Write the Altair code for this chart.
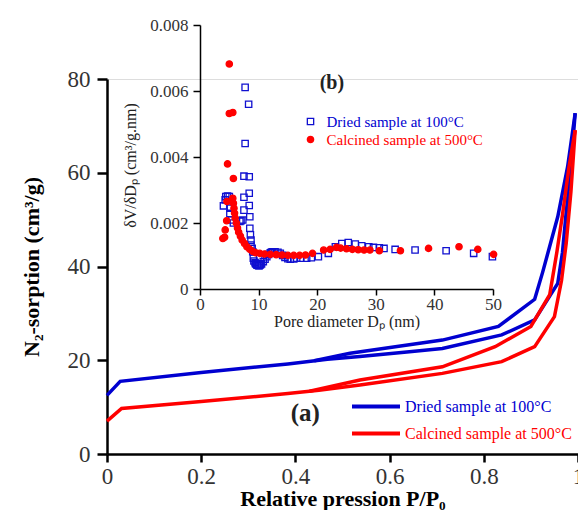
import altair as alt
import pandas as pd

DRIED = "Dried sample at 100°C"
CALC = "Calcined sample at 500°C"
BLUE = "#0000d0"
RED = "#ff0000"

# ---- (a) N2 sorption isotherms: relative pressure P/P0 vs adsorbed volume (cm3/g)
dried_ads_x = [0.0, 0.028, 0.2, 0.384, 0.468, 0.537, 0.642, 0.712, 0.838, 0.908, 0.957, 0.967, 0.974, 0.985, 0.994]
dried_ads_y = [12.5, 15.5, 17.4, 19.2, 20.2, 20.8, 21.8, 22.5, 25.4, 28.6, 36.4, 43.0, 50.6, 61.3, 72.7]
dried_des_x = [0.44, 0.516, 0.712, 0.831, 0.908, 0.925, 0.957, 0.978, 0.994]
dried_des_y = [19.9, 21.5, 24.3, 27.2, 33.0, 38.8, 50.6, 61.3, 72.7]
calc_ads_x = [0.0, 0.031, 0.2, 0.384, 0.45, 0.537, 0.712, 0.838, 0.908, 0.95, 0.965, 0.975, 0.985, 0.994]
calc_ads_y = [7.0, 9.7, 11.2, 12.9, 13.6, 14.7, 17.2, 19.7, 22.9, 29.3, 37.0, 45.0, 56.0, 69.1]
calc_des_x = [0.43, 0.537, 0.712, 0.824, 0.90, 0.94, 0.955, 0.967, 0.981, 0.994]
calc_des_y = [13.4, 15.8, 18.6, 22.9, 27.2, 34.0, 43.0, 51.0, 61.3, 69.1]

# ---- (b) pore size distribution: pore diameter (nm) vs dV/dDp (x 0.001 cm3/g.nm)
psd_dried_d = [4.0, 4.3, 4.4, 4.7, 5.0, 5.1, 5.2, 5.4, 5.7, 6.8, 7.0, 7.3, 7.5, 7.5, 7.5, 7.7, 7.7, 8.3,
               8.4, 8.4, 8.4, 8.5, 8.5, 8.6, 8.7, 8.7, 8.9, 9.0, 9.1, 9.2, 9.4, 9.5, 9.7, 9.8, 10.0, 10.1,
               10.3, 10.5, 10.8, 11.1, 11.4, 11.7, 12.0, 12.2, 12.4, 12.8, 13.3, 13.7, 14.1, 14.5, 15.0,
               15.4, 16.0, 16.5, 17.2, 18.2, 19.0, 20.2, 21.9, 23.1, 24.2, 25.3, 26.5, 27.6, 28.8, 29.6,
               30.6, 31.4, 33.3, 36.7, 42.0, 46.7, 49.9]
psd_dried_v = [2.52, 2.70, 2.80, 2.82, 2.80, 2.29, 2.45, 2.09, 2.00, 2.05, 2.07, 2.09, 2.78, 2.39, 3.42, 4.41,
               6.11, 5.60, 3.40, 2.90, 2.53, 2.19, 1.84, 1.64, 1.48, 1.33, 1.23, 1.13, 0.93, 0.85, 0.80, 0.76,
               0.73, 0.72, 0.71, 0.71, 0.73, 0.76, 0.83, 0.90, 0.98, 1.05, 1.10, 1.12, 1.13, 1.13, 1.11,
               1.08, 1.02, 0.96, 0.92, 0.90, 0.91, 0.93, 0.93, 0.93, 0.95, 0.98, 1.08, 1.28, 1.38, 1.41,
               1.36, 1.31, 1.28, 1.26, 1.25, 1.23, 1.20, 1.18, 1.16, 1.08, 0.98]
psd_calc_d = [3.9, 4.2, 4.3, 4.55, 4.6, 4.7, 5.0, 5.0, 5.6, 5.7, 5.6, 5.7, 5.8, 5.9, 6.0, 6.2, 6.4, 6.6,
              6.9, 7.2, 7.6, 8.0, 8.5, 9.0, 9.5, 10.2, 11.0, 12.0, 13.0, 14.0, 15.0, 16.0, 17.0, 18.0,
              19.2, 21.1, 22.2, 23.3, 24.0, 25.0, 26.0, 27.0, 28.0, 29.0, 30.6, 34.2, 39.0, 44.2, 47.4, 50.1]
psd_calc_v = [1.53, 1.57, 1.79, 2.07, 2.65, 3.79, 6.82, 5.32, 5.35, 3.35, 2.75, 2.60, 2.45, 2.30, 2.15,
              2.00, 1.85, 1.72, 1.60, 1.48, 1.38, 1.28, 1.20, 1.14, 1.10, 1.08, 1.06, 1.05, 1.04, 1.03,
              1.02, 1.02, 1.02, 1.03, 1.08, 1.18, 1.20, 1.26, 1.24, 1.22, 1.20, 1.19, 1.18, 1.18, 1.16,
              1.16, 1.23, 1.28, 1.20, 1.05]

# panel labels
label_a_text, label_a_x, label_a_y = ["(a)"], [0.421], [7.0]
label_b_text, label_b_x, label_b_y = ["(b)"], [22.5], [6.06]

# ---- tables
rows = []
for xs, ys, s, b in [(dried_ads_x, dried_ads_y, DRIED, "d_ads"), (dried_des_x, dried_des_y, DRIED, "d_des"),
                     (calc_ads_x, calc_ads_y, CALC, "c_ads"), (calc_des_x, calc_des_y, CALC, "c_des")]:
    for x, y in zip(xs, ys):
        rows.append({"p": x, "v": y, "sample": s, "branch": b})
iso = pd.DataFrame(rows)

prow = []
for ds, vs, s in [(psd_dried_d, psd_dried_v, DRIED), (psd_calc_d, psd_calc_v, CALC)]:
    for d, v in zip(ds, vs):
        prow.append({"D": d, "V": v * 1e-3, "sb": s})
psd = pd.DataFrame(prow)

ann_a = pd.DataFrame({"p": label_a_x, "v": label_a_y, "t": label_a_text})
ann_b = pd.DataFrame({"D": label_b_x, "V": [v * 1e-3 for v in label_b_y], "t": label_b_text})

SERIF = "Liberation Serif"


def by_label(a, b):
    return {"expr": f"indexof(datum.label, 'Dried') >= 0 ? '{a}' : '{b}'"}


# ---- main panel
mx = alt.X("p:Q", scale=alt.Scale(domain=[0, 1], nice=False),
           axis=alt.Axis(title="Relative pression P/P₀", values=[0, 0.2, 0.4, 0.6, 0.8, 1], format="~g",
                         titleFont=SERIF, titleFontSize=22, titleFontWeight="bold", titleColor="black",
                         titleY=51, titleBaseline="alphabetic",
                         labelFont=SERIF, labelFontSize=23, labelColor="#333333", labelPadding=3,
                         tickSize=8, tickWidth=2.5, tickColor="black", domainWidth=2.5,
                         domainColor="black", grid=False, labelFlush=False))
my = alt.Y("v:Q", scale=alt.Scale(domain=[0, 80], nice=False),
           axis=alt.Axis(title="N₂-sorption (cm³/g)", values=[0, 20, 40, 60, 80],
                         titleFont=SERIF, titleFontSize=22, titleFontWeight="bold", titleColor="black",
                         titleX=-69, titleY=187.5, titleBaseline="alphabetic", titleAlign="center",
                         titleAngle=270,
                         labelFont=SERIF, labelFontSize=23, labelColor="#333333", labelPadding=7,
                         tickSize=10, tickWidth=2.5, tickColor="black", domainWidth=2.5,
                         domainColor="black", grid=False))

lines = alt.Chart(iso).mark_line(strokeWidth=3.5).encode(
    x=mx, y=my,
    color=alt.Color("sample:N", scale=alt.Scale(domain=[DRIED, CALC], range=[BLUE, RED]),
                    legend=alt.Legend(title=None, orient="none", legendX=243, legendY=315,
                                      symbolType="stroke", symbolSize=2304, symbolStrokeWidth=4,
                                      clipHeight=25, labelFont=SERIF, labelFontSize=16, labelOffset=3,
                                      labelColor=by_label(BLUE, RED), labelLimit=0, padding=0)),
    detail="branch:N",
)
text_a = alt.Chart(ann_a).mark_text(font=SERIF, fontSize=25, fontWeight="bold", color="#222222",
                                    align="center", baseline="alphabetic").encode(x=mx, y=my, text="t:N")
main = alt.layer(lines, text_a)

# ---- inset panel (b)
ix = alt.X("D:Q", scale=alt.Scale(domain=[0, 50], range=[93, 386], nice=False),
           axis=alt.Axis(title="Pore diameter Dₚ (nm)", orient="bottom", offset=-165,
                         values=[0, 10, 20, 30, 40, 50],
                         titleFont=SERIF, titleFontSize=16, titleFontWeight="normal", titleColor="#222222",
                         titleY=37, titleBaseline="alphabetic",
                         labelFont=SERIF, labelFontSize=17, labelColor="#333333", labelPadding=1,
                         tickSize=6, tickWidth=1.5, tickColor="black", domainWidth=1.5,
                         domainColor="black", grid=False, labelFlush=False))
iy = alt.Y("V:Q", scale=alt.Scale(domain=[0, 0.008], range=[210, -54], nice=False),
           axis=alt.Axis(title="δV/δDₚ (cm³/g.nm)", orient="left", offset=-93,
                         values=[0, 0.002, 0.004, 0.006, 0.008], format="~g",
                         titleFont=SERIF, titleFontSize=16, titleFontWeight="normal", titleColor="#222222",
                         titleX=-65, titleY=86, titleBaseline="alphabetic", titleAlign="center",
                         titleAngle=270,
                         labelFont=SERIF, labelFontSize=17, labelColor="#333333", labelPadding=5,
                         tickSize=7, tickWidth=1.5, tickColor="black", domainWidth=1.5,
                         domainColor="black", grid=False, labelFlush=False))

PT_BLUE = "#1010d0"
leg_b = alt.Legend(title=None, orient="none", legendX=196, legendY=35, symbolSize=40,
                   symbolStrokeWidth=1.3, symbolFillColor=by_label("transparent", RED),
                   symbolStrokeColor=by_label(PT_BLUE, RED), symbolOpacity=1,
                   labelFont=SERIF, labelFontSize=15, labelOffset=8.5,
                   labelColor=by_label(BLUE, RED), labelLimit=0, padding=0)
order = [DRIED, CALC]
points = alt.Chart(psd).mark_point(size=40, strokeWidth=1.3, opacity=1, fillOpacity=1).encode(
    x=ix, y=iy,
    shape=alt.Shape("sb:N", sort=order, scale=alt.Scale(range=["square", "circle"]), legend=leg_b),
    stroke=alt.Stroke("sb:N", sort=order, scale=alt.Scale(range=[PT_BLUE, RED]), legend=None),
    fill=alt.Fill("sb:N", sort=order, scale=alt.Scale(range=["transparent", RED]), legend=None),
)
text_b = alt.Chart(ann_b).mark_text(font=SERIF, fontSize=20, fontWeight="bold", color="#222222",
                                    align="center", baseline="alphabetic").encode(x=ix, y=iy, text="t:N")
inset = alt.layer(points, text_b)

chart = alt.layer(main, inset).resolve_scale(x="independent", y="independent").properties(
    width=471, height=375,
    autosize=alt.AutoSizeParams(type="none"),
    padding={"left": 99, "top": 71, "right": 0, "bottom": 56},
).configure_view(stroke=None).configure(background="white")

chart.save("out.html", embed_options={"renderer": "svg", "actions": False})
